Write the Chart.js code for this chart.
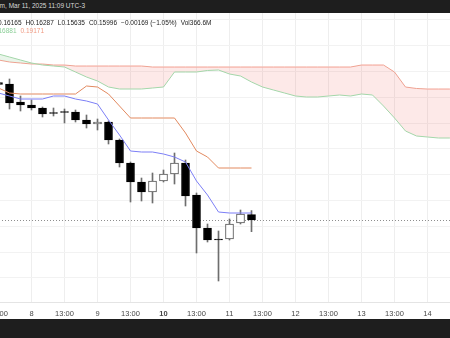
<!DOCTYPE html>
<html>
<head>
<meta charset="utf-8">
<script src="https://cdn.jsdelivr.net/npm/chart.js@4.4.1/dist/chart.umd.min.js"></script>
<style>
  html, body { margin: 0; padding: 0; background: #fff; overflow: hidden; }
  #wrap { position: relative; width: 450px; height: 338px; overflow: hidden; font-family: "Liberation Sans", Arial, sans-serif; }
  #c { position: absolute; left: -22px; top: 0; }
  .band { position: absolute; left: 0; width: 450px; background: #1e1e1e; }
  #topband { top: 0; height: 13px; }
  #botband { top: 319px; height: 19px; }
  .txt { position: absolute; white-space: nowrap; line-height: 8px; }
  .gap { margin-left: 4px; }
</style>
</head>
<body>
<div id="wrap">
  <canvas id="c" width="472" height="338"></canvas>
  <div class="band" id="topband"></div>
  <div class="band" id="botband"></div>
  <div class="txt" style="right:365px; top:2px; font-size:6.5px; color:#d8d8d8;">TradingView.com, Mar 11, 2025 11:09 UTC-3</div>
  <div class="txt" style="left:-7px; top:18.5px; font-size:6.5px; color:#222;"><span>O0.16165</span><span class="gap">H0.16287</span><span class="gap">L0.15635</span><span class="gap">C0.15996</span><span class="gap">−0.00169 (−1.05%)</span><span class="gap">Vol366.6M</span></div>
  <div class="txt" style="left:-7px; top:26.5px; font-size:6.5px;"><span style="color:#8ccf98;">0.16881</span><span class="gap" style="color:#f09a82;">0.19171</span></div>
</div>
<script>
// 4h candles, index 0 = Mar 7 13:00 (UTC-3)
const openP  = [0.20259, 0.20212, 0.19654, 0.19561, 0.19468, 0.19329, 0.19360, 0.19344, 0.19096, 0.18972, 0.19034, 0.18476, 0.17763, 0.17174, 0.16864, 0.17205, 0.17422, 0.17763, 0.16771, 0.15748, 0.15392, 0.15407, 0.15903, 0.16165];
const highP  = [0.20336, 0.20367, 0.19840, 0.19716, 0.19499, 0.19468, 0.19437, 0.19406, 0.19251, 0.19127, 0.19065, 0.18507, 0.17794, 0.17298, 0.17453, 0.17546, 0.18073, 0.17856, 0.16833, 0.15872, 0.15655, 0.16027, 0.16306, 0.16287];
const lowP   = [0.20150, 0.19437, 0.19375, 0.19406, 0.19189, 0.19220, 0.19003, 0.19034, 0.18848, 0.18786, 0.18352, 0.17639, 0.16554, 0.16585, 0.16523, 0.17174, 0.17112, 0.16430, 0.14973, 0.15314, 0.14105, 0.15376, 0.15872, 0.15635];
const closeP = [0.20197, 0.19623, 0.19561, 0.19468, 0.19282, 0.19298, 0.19329, 0.19096, 0.18972, 0.19034, 0.18476, 0.17763, 0.17174, 0.16864, 0.17205, 0.17422, 0.17763, 0.16740, 0.15748, 0.15376, 0.15376, 0.15872, 0.16182, 0.15996];

// Ichimoku conversion / base lines
const tenkan = [0.19933, 0.19840, 0.19747, 0.19747, 0.19747, 0.19840, 0.19840, 0.19747, 0.19685, 0.19592, 0.19096, 0.18631, 0.18135, 0.18104, 0.18104, 0.18042, 0.17949, 0.17794, 0.17205, 0.16771, 0.16244, 0.16213, 0.16213, 0.16213];
const kijun  = [0.20088, 0.19933, 0.19902, 0.19902, 0.19902, 0.19902, 0.19902, 0.19902, 0.20150, 0.20119, 0.19902, 0.19530, 0.19158, 0.19158, 0.19158, 0.19158, 0.19158, 0.18693, 0.18135, 0.17949, 0.17608, 0.17608, 0.17608, 0.17608];

// Leading spans (cloud), projected forward past the last candle
const spanA = [0.21142, 0.21049, 0.20956, 0.20863, 0.20801, 0.20770, 0.20739, 0.20584, 0.20429, 0.20305, 0.20119, 0.20057, 0.20057, 0.20057, 0.20088, 0.20119, 0.20584, 0.20584, 0.20584, 0.20631, 0.20646, 0.20522, 0.20460, 0.20274, 0.20119, 0.20026, 0.19933, 0.19840, 0.19809, 0.19809, 0.19840, 0.19871, 0.19840, 0.19902, 0.19871, 0.19530, 0.19158, 0.18755, 0.18600, 0.18569, 0.18538, 0.18538, 0.18538];
const spanB = [0.20956, 0.20894, 0.20863, 0.20832, 0.20832, 0.20801, 0.20801, 0.20770, 0.20770, 0.20770, 0.20770, 0.20770, 0.20770, 0.20770, 0.20739, 0.20739, 0.20739, 0.20739, 0.20739, 0.20739, 0.20739, 0.20739, 0.20739, 0.20739, 0.20739, 0.20739, 0.20739, 0.20739, 0.20739, 0.20739, 0.20739, 0.20739, 0.20739, 0.20801, 0.20801, 0.20801, 0.20584, 0.20119, 0.20073, 0.20057, 0.20057, 0.20057, 0.20057];

// time axis
const tickIdx    = [0, 3, 6, 9, 12, 15, 18, 21, 24, 27, 30, 33, 36, 39];
const tickLabels = ['13:00', '8', '13:00', '9', '13:00', '10', '13:00', '11', '13:00', '12', '13:00', '13', '13:00', '14'];
const boldLabel  = '10';

// price grid levels
const yGrid = [0.222, 0.214, 0.206, 0.198, 0.190, 0.182, 0.174, 0.166, 0.158, 0.150, 0.142];

const lastClose = closeP[closeP.length - 1];
const labelFor = v => { const k = tickIdx.indexOf(v); return k < 0 ? '' : tickLabels[k]; };

const xy = arr => arr.map((v, i) => ({ x: i, y: v }));
const bodies = openP.map((o, i) => ({ x: i, y: [o, closeP[i]] }));
const wicks  = lowP.map((l, i) => ({ x: i, y: [l, highP[i]] }));
const isUp = i => closeP[i] >= openP[i];

const lastPriceLine = {
  id: 'lastPriceLine',
  beforeDatasetsDraw(chart) {
    const { ctx, chartArea: a, scales: { y } } = chart;
    const py = Math.round(y.getPixelForValue(lastClose)) + 0.5;
    ctx.save();
    ctx.strokeStyle = '#8e8e8e';
    ctx.lineWidth = 1;
    ctx.setLineDash([1, 2]);
    ctx.beginPath();
    ctx.moveTo(a.left, py);
    ctx.lineTo(a.right, py);
    ctx.stroke();
    ctx.restore();
  }
};

new Chart(document.getElementById('c'), {
  type: 'line',
  data: {
    datasets: [
      {
        type: 'line', data: xy(spanA), borderColor: '#a3d6a9', borderWidth: 1,
        pointRadius: 0, tension: 0, order: 6,
        fill: { target: 1, above: 'rgba(76,175,80,0.12)', below: 'rgba(239,83,80,0.13)' }
      },
      { type: 'line', data: xy(spanB), borderColor: '#f3a596', borderWidth: 1, pointRadius: 0, tension: 0, fill: false, order: 6 },
      {
        type: 'bar', data: wicks, barThickness: 1, grouped: false,
        backgroundColor: '#6e6e6e', borderWidth: 0, order: 4
      },
      {
        type: 'bar', data: bodies, barThickness: 8, grouped: false, minBarLength: 1,
        backgroundColor: c => isUp(c.dataIndex) ? '#ffffff' : '#000000',
        borderColor: c => isUp(c.dataIndex) ? '#555555' : '#000000',
        borderWidth: 1, borderSkipped: false, order: 3
      },
      { type: 'line', data: xy(kijun), borderColor: '#e2895f', borderWidth: 1, pointRadius: 0, tension: 0, fill: false, order: 1 },
      { type: 'line', data: xy(tenkan), borderColor: '#7c7ff6', borderWidth: 1, pointRadius: 0, tension: 0, fill: false, order: 0 }
    ]
  },
  options: {
    responsive: false,
    animation: false,
    devicePixelRatio: 1,
    layout: { padding: 0 },
    plugins: { legend: { display: false }, tooltip: { enabled: false } },
    scales: {
      x: {
        type: 'linear',
        min: -20.5 / 11,
        max: -20.5 / 11 + 472 / 11,
        offset: false,
        afterBuildTicks: a => { a.ticks = tickIdx.map(v => ({ value: v })); },
        afterFit: a => { a.height = 36; },
        grid: { color: '#eeeeee', drawTicks: false, offset: false },
        border: { display: true, color: '#e4e4e4' },
        ticks: {
          autoSkip: false, maxRotation: 0, padding: 7, color: '#474747',
          font: c => ({ family: 'Liberation Sans', size: 7.5,
                        weight: (c.tick && labelFor(c.tick.value) === boldLabel) ? 'bold' : 'normal' }),
          callback: v => labelFor(v)
        }
      },
      y: {
        type: 'linear',
        position: 'right',
        min: 0.22816 - 0.00031 * 302,
        max: 0.22816,
        afterBuildTicks: a => { a.ticks = yGrid.map(v => ({ value: v })); },
        afterFit: a => { a.width = 0; },
        grid: { color: '#f2f2f2', drawTicks: false },
        border: { display: false },
        ticks: { display: false }
      }
    }
  },
  plugins: [lastPriceLine]
});
</script>
</body>
</html>
